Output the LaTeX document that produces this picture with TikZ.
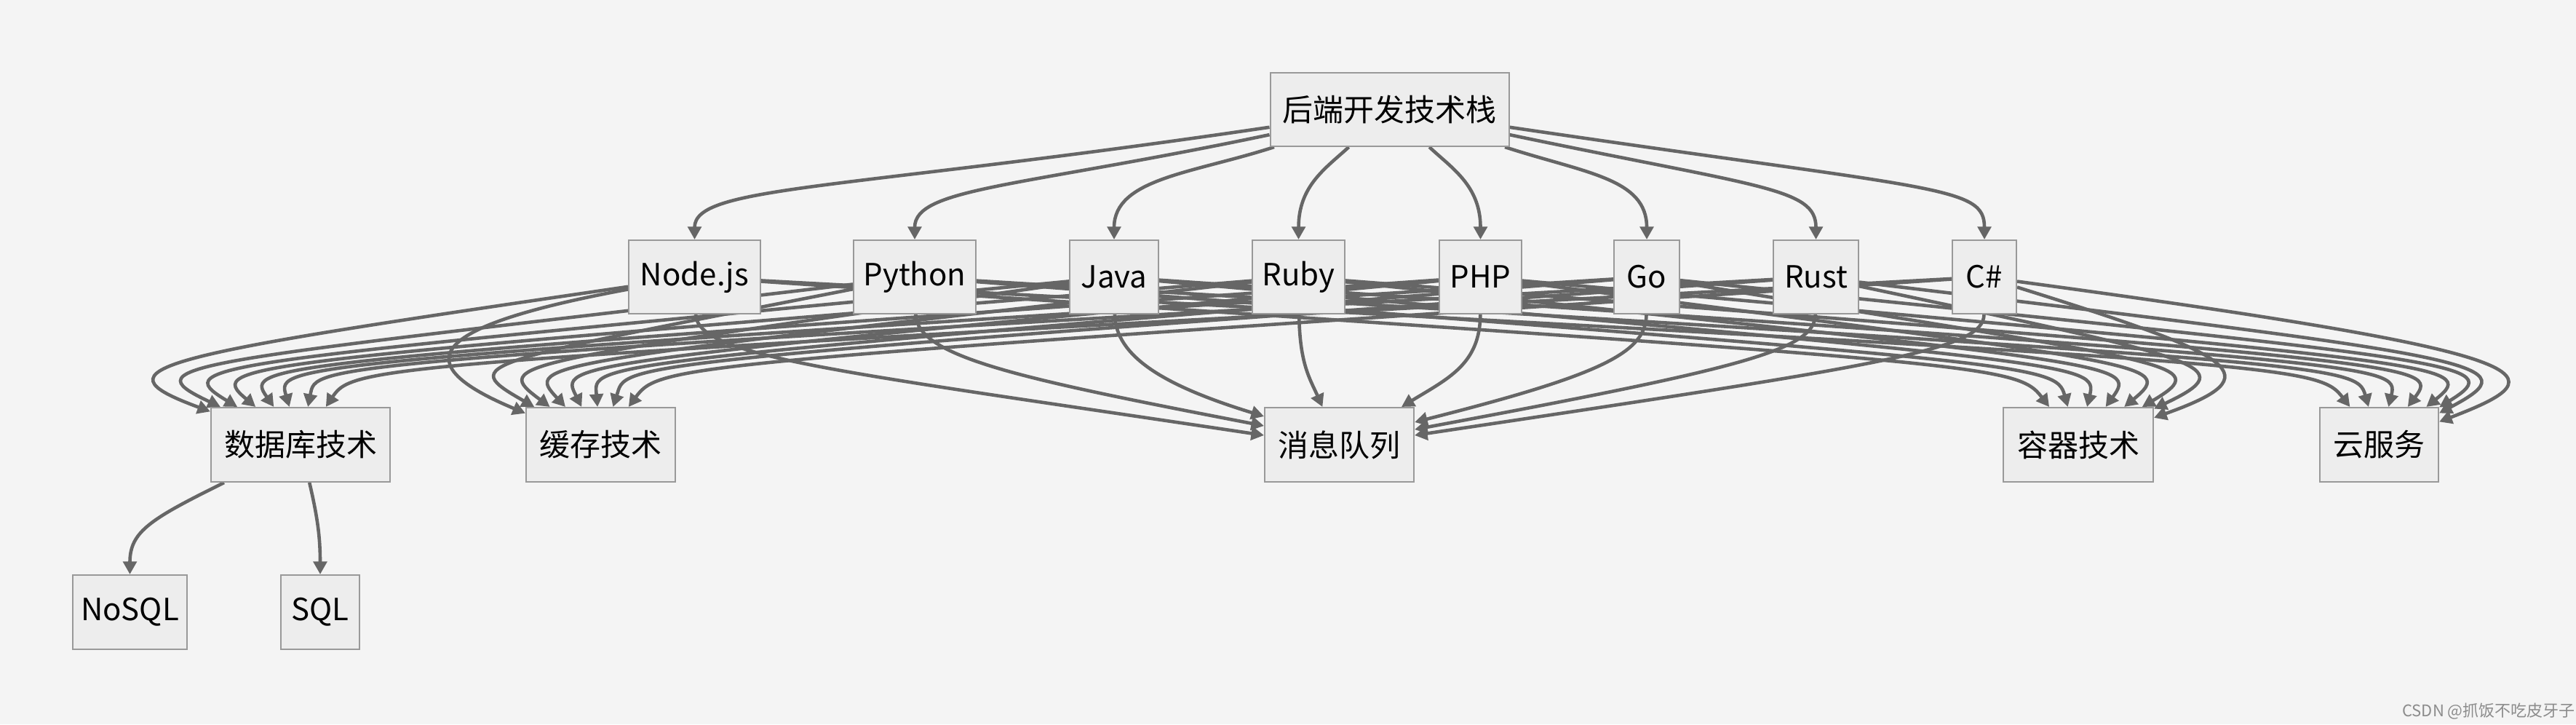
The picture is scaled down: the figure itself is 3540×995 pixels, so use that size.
\documentclass[tikz,border=0pt]{standalone}
\usepackage{fontspec}
\newfontfamily\cjk{Noto Sans CJK SC}
\usetikzlibrary{arrows.meta,calc}
\pgfdeclarelayer{back}
\pgfdeclarelayer{edges}
\pgfsetlayers{back,edges,main}
\definecolor{bgc}{HTML}{F4F4F4}
\definecolor{boxfill}{HTML}{EDEDED}
\definecolor{boxdraw}{HTML}{999999}
\definecolor{edgec}{HTML}{666666}
\begin{document}
\begin{tikzpicture}[x=0.25pt,y=-0.25pt,
  box/.style={draw=boxdraw, fill=boxfill, line width=0.5pt, minimum height=25.25pt, inner sep=0pt, font=\cjk\fontsize{10.5}{12}\selectfont, text=black},
  edge/.style={draw=edgec, line width=1.15pt, -{Triangle[length=4.4pt,width=4.6pt]}}]
\useasboundingbox (0,0) rectangle (3540,995);
\begin{pgfonlayer}{back}
\fill[bgc] (0,0) rectangle (3540,995);
\end{pgfonlayer}
% nodes
\node[box,minimum width=82pt] (root) at (1909.5,150.5) {后端开发技术栈};
\node[box,minimum width=45.25pt] (nodejs) at (954.5,380.5) {Node.js};
\node[box,minimum width=42pt] (python) at (1257,380.5) {Python};
\node[box,minimum width=30.5pt] (java) at (1531,380.5) {Java};
\node[box,minimum width=31.75pt] (ruby) at (1784.5,380.5) {Ruby};
\node[box,minimum width=28.25pt] (php) at (2034.5,380.5) {PHP};
\node[box,minimum width=22.5pt] (go) at (2263,380.5) {Go};
\node[box,minimum width=29.25pt] (rust) at (2495.5,380.5) {Rust};
\node[box,minimum width=22pt] (cs) at (2727,380.5) {C\#};
\node[box,minimum width=61.5pt,minimum height=25.5pt] (db) at (413,611) {数据库技术};
\node[box,minimum width=51.25pt,minimum height=25.5pt] (cache) at (825.5,611) {缓存技术};
\node[box,minimum width=51.25pt,minimum height=25.5pt] (mq) at (1840.5,611) {消息队列};
\node[box,minimum width=51.5pt,minimum height=25.5pt] (container) at (2856,611) {容器技术};
\node[box,minimum width=40.75pt,minimum height=25.5pt] (cloud) at (3269.5,611) {云服务};
\node[box,minimum width=39.25pt,minimum height=25.5pt] (nosql) at (178.5,841) {NoSQL};
\node[box,minimum width=27pt,minimum height=25.5pt] (sql) at (440,841) {SQL};
\node[font=\cjk\fontsize{5.5}{6}\selectfont, text=black!45] (wm) at (3420,977) {CSDN @抓饭不吃皮牙子};
\begin{pgfonlayer}{edges}
% root -> languages
\draw[edge] (root) .. controls (1153,262) and (954.5,255) .. (nodejs);
\draw[edge] (root) .. controls (1399.5,257.5) and (1257,258) .. (python);
\draw[edge] (root) .. controls (1640,238) and (1531,245) .. (java);
\draw[edge] (root) .. controls (1822,231) and (1784.5,255) .. (ruby);
\draw[edge] (root) .. controls (1995,231) and (2034.5,255) .. (php);
\draw[edge] (root) .. controls (2179,238) and (2263,245) .. (go);
\draw[edge] (root) .. controls (2419.5,257.5) and (2495.5,258) .. (rust);
\draw[edge] (root) .. controls (2666,262) and (2727,255) .. (cs);
% -> db
\draw[edge] (nodejs) .. controls (205,490) and (125,505) .. (db);
\draw[edge] (python) .. controls (248,500) and (176,499) .. (db);
\draw[edge] (java) .. controls (285,500) and (226,499) .. (db);
\draw[edge] (ruby) .. controls (318,500) and (280,499) .. (db);
\draw[edge] (php) .. controls (348,500) and (334,499) .. (db);
\draw[edge] (go) .. controls (375,500) and (380,499) .. (db);
\draw[edge] (rust) .. controls (400,500) and (435,499) .. (db);
\draw[edge] (cs) .. controls (520,500) and (488,499) .. (db);
% -> cache
\draw[edge] (nodejs) .. controls (580,450) and (560,500) .. (cache);
\draw[edge] (python) .. controls (648,500) and (629,499) .. (cache);
\draw[edge] (java) .. controls (690,500) and (675,499) .. (cache);
\draw[edge] (ruby) .. controls (727,500) and (721,499) .. (cache);
\draw[edge] (php) .. controls (760,500) and (769,499) .. (cache);
\draw[edge] (go) .. controls (788,500) and (816,499) .. (cache);
\draw[edge] (rust) .. controls (813,500) and (862,499) .. (cache);
\draw[edge] (cs) .. controls (930,500) and (908,499) .. (cache);
% -> mq
\draw[edge] (nodejs) .. controls (958,490) and (1150,510) .. ($(mq.west)+(0,-13)$);
\draw[edge] (python) .. controls (1260,490) and (1400,520) .. ($(mq.west)+(0,-26)$);
\draw[edge] (java) .. controls (1533,490) and (1600,530) .. ($(mq.west)+(0,-39)$);
\draw[edge] (ruby) .. controls (1786,500) and (1800,520) .. (mq);
\draw[edge] (php) .. controls (2034,500) and (1990,520) .. (mq);
\draw[edge] (go) .. controls (2262,485) and (2200,515) .. ($(mq.east)+(0,-31)$);
\draw[edge] (rust) .. controls (2494,480) and (2400,505) .. ($(mq.east)+(0,-21)$);
\draw[edge] (cs) .. controls (2726,480) and (2600,500) .. ($(mq.east)+(0,-13)$);
% -> container
\draw[edge] (nodejs) .. controls (2740,500) and (2770,499) .. (container);
\draw[edge] (python) .. controls (2800,500) and (2825,499) .. (container);
\draw[edge] (java) .. controls (2870,500) and (2882,499) .. (container);
\draw[edge] (ruby) .. controls (2922,500) and (2937,499) .. (container);
\draw[edge] (php) .. controls (2957,500) and (2992,499) .. (container);
\draw[edge] (go) .. controls (2992,500) and (3045,499) .. (container);
\draw[edge] (rust) .. controls (3035,495) and (3083,503) .. (container);
\draw[edge] (cs) .. controls (3077,490) and (3125,515) .. (container);
% -> cloud
\draw[edge] (nodejs) .. controls (3150,500) and (3183,499) .. (cloud);
\draw[edge] (python) .. controls (3220,500) and (3238,499) .. (cloud);
\draw[edge] (java) .. controls (3280,500) and (3297,499) .. (cloud);
\draw[edge] (ruby) .. controls (3335,500) and (3354,499) .. (cloud);
\draw[edge] (php) .. controls (3367,500) and (3409,499) .. (cloud);
\draw[edge] (go) .. controls (3400,497) and (3449,499) .. (cloud);
\draw[edge] (rust) .. controls (3427,492) and (3480,500) .. (cloud);
\draw[edge] (cs) .. controls (3520,488) and (3520,515) .. (cloud);
% db -> children
\draw[edge] (db) .. controls (207,713) and (178.5,730) .. (nosql);
\draw[edge] (db) .. controls (437,713) and (440,740) .. (sql);
\end{pgfonlayer}
\end{tikzpicture}
\end{document}
